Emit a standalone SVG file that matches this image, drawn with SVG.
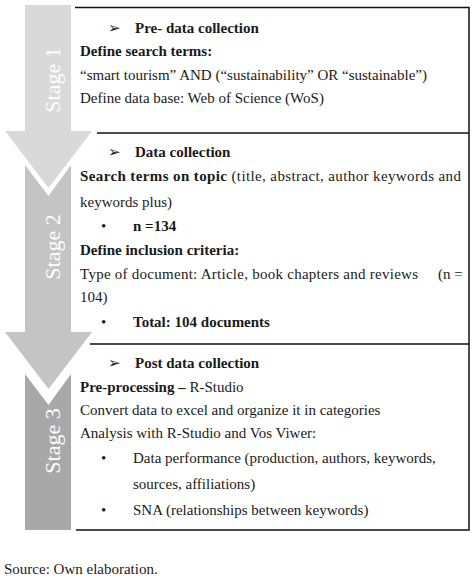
<svg xmlns="http://www.w3.org/2000/svg" width="474" height="579" viewBox="0 0 474 579">
<style>
text{font-family:"Liberation Serif","Times New Roman",serif;font-size:15px;fill:#1a1a1a}
.b{font-weight:bold}
.stage{font-size:22px;fill:#ffffff;text-anchor:middle}
.ln{stroke:#111;stroke-width:1.5;fill:none}
</style>
<rect width="474" height="579" fill="#ffffff"/>
<g id="boxes">
<path class="ln" d="M75 7.5H469V530H76"/>
<path class="ln" d="M97 133H469"/>
<path class="ln" d="M90 344H469"/>
</g>
<g id="stage1">
<polygon points="25,5 71,5 71,131 92,131 48.5,188 5,131 25,131" fill="#d9d9d9"/>
<text class="stage" transform="translate(60,80) rotate(-90)">Stage 1</text>
</g>
<g id="stage2">
<polygon points="25,165 48.5,196 71,165 71,332 92,332 48.5,389 5,332 25,332" fill="#c4c4c4"/>
<text class="stage" transform="translate(60,247) rotate(-90)">Stage 2</text>
</g>
<g id="stage3">
<polygon points="25,374 48.5,405 71,374 71,530 25,530" fill="#a8a8a8"/>
<text class="stage" transform="translate(60,441) rotate(-90)">Stage 3</text>
</g>
<g id="box1">
<text x="108" y="33">➢</text>
<text class="b" x="135" y="33">Pre- data collection</text>
<text class="b" x="80" y="56">Define search terms:</text>
<text x="80" y="80">“smart tourism” AND (“sustainability” OR “sustainable”)</text>
<text x="80" y="103">Define data base: Web of Science (WoS)</text>
</g>
<g id="box2">
<text x="108" y="157">➢</text>
<text class="b" x="135" y="157">Data collection</text>
<text x="80" y="181" textLength="381" lengthAdjust="spacing"><tspan class="b">Search terms on topic</tspan> (title, abstract, author keywords and</text>
<text x="80" y="207">keywords plus)</text>
<text x="101" y="231">•</text>
<text class="b" x="133" y="231">n =134</text>
<text class="b" x="80" y="255">Define inclusion criteria:</text>
<text x="80" y="279" textLength="338" lengthAdjust="spacing">Type of document: Article, book chapters and reviews</text>
<text x="438" y="279">(n =</text>
<text x="80" y="302">104)</text>
<text x="101" y="327">•</text>
<text class="b" x="133" y="327">Total: 104 documents</text>
</g>
<g id="box3">
<text x="108" y="368">➢</text>
<text class="b" x="135" y="368">Post data collection</text>
<text x="80" y="392"><tspan class="b">Pre-processing –</tspan> R-Studio</text>
<text x="80" y="415">Convert data to excel and organize it in categories</text>
<text x="80" y="438">Analysis with R-Studio and Vos Viwer:</text>
<text x="101" y="463">•</text>
<text x="133" y="463">Data performance (production, authors, keywords,</text>
<text x="133" y="489">sources, affiliations)</text>
<text x="101" y="515">•</text>
<text x="133" y="515">SNA (relationships between keywords)</text>
</g>
<text x="4" y="574">Source: Own elaboration.</text>
</svg>
